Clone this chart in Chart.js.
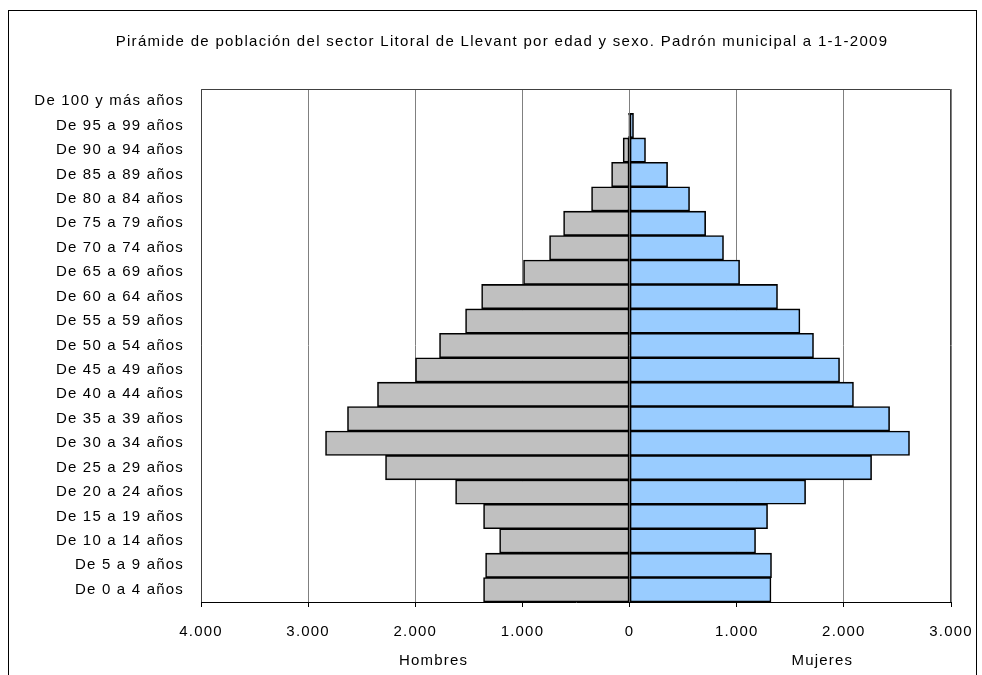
<!DOCTYPE html>
<html>
<head>
<meta charset="utf-8">
<title>Pirámide de población</title>
<script src="https://cdn.jsdelivr.net/npm/chart.js@4/dist/chart.umd.min.js"></script>
<style>
  body { margin: 0; background: #fff; }
  canvas { display: block; }
</style>
</head>
<body>
<canvas id="piramide" width="982" height="675"></canvas>
<script>
// grupos de edad, de abajo (0-4) hacia arriba (100 y más)
const edades = [
  "De 0 a 4 años", "De 5 a 9 años", "De 10 a 14 años", "De 15 a 19 años",
  "De 20 a 24 años", "De 25 a 29 años", "De 30 a 34 años", "De 35 a 39 años",
  "De 40 a 44 años", "De 45 a 49 años", "De 50 a 54 años", "De 55 a 59 años",
  "De 60 a 64 años", "De 65 a 69 años", "De 70 a 74 años", "De 75 a 79 años",
  "De 80 a 84 años", "De 85 a 89 años", "De 90 a 94 años", "De 95 a 99 años",
  "De 100 y más años"
];
const hombres = [1363, 1344, 1213, 1363, 1624, 2278, 2838, 2633, 2353, 1998, 1774,
  1531, 1381, 990, 747, 616, 355, 168, 60, 10, 0];
const mujeres = [1320, 1325, 1176, 1288, 1643, 2259, 2613, 2427, 2090, 1960, 1717,
  1590, 1381, 1027, 877, 710, 560, 355, 149, 37, 0];
const ejeMin = -4000;
const ejeMax = 3000;
const paso = 1000;

const titulo = "Pirámide de población del sector Litoral de Llevant por edad y sexo. Padrón municipal a 1-1-2009";
const fuente = "'Liberation Sans', Arial, sans-serif";
const espaciado = "1.2px";

function miles(v) {
  return String(Math.abs(v)).replace(/\B(?=(\d{3})+(?!\d))/g, ".");
}

// marco exterior, título, recuadro del área y rótulos Hombres / Mujeres
const decorado = {
  id: "decorado",
  beforeDraw(chart) {
    const ctx = chart.ctx;
    ctx.save();
    ctx.strokeStyle = "#000";
    ctx.lineWidth = 1;
    ctx.strokeRect(8.5, 10.5, 968, 700);
    ctx.fillStyle = "#000";
    ctx.font = "15px " + fuente;
    ctx.letterSpacing = "1.3px";
    ctx.textAlign = "center";
    ctx.textBaseline = "middle";
    ctx.fillText(titulo, 502, 42);
    ctx.restore();
    // el texto de los ejes va algo espaciado
    ctx.letterSpacing = espaciado;
  },
  afterDraw(chart) {
    const ctx = chart.ctx;
    const a = chart.chartArea;
    const x = chart.scales.x;
    ctx.save();
    ctx.strokeStyle = "#404040";
    ctx.lineWidth = 1;
    ctx.beginPath();
    ctx.moveTo(a.left + 0.5, a.bottom);
    ctx.lineTo(a.left + 0.5, a.top + 0.5);
    ctx.lineTo(a.right - 0.5, a.top + 0.5);
    ctx.lineTo(a.right - 0.5, a.bottom);
    ctx.stroke();
    ctx.fillStyle = "#000";
    ctx.font = "15px " + fuente;
    ctx.letterSpacing = espaciado;
    ctx.textAlign = "center";
    ctx.textBaseline = "middle";
    ctx.fillText("Hombres", x.getPixelForValue(-1830), 661);
    ctx.fillText("Mujeres", x.getPixelForValue(1800), 661);
    ctx.restore();
  }
};

new Chart(document.getElementById("piramide"), {
  type: "bar",
  data: {
    labels: edades,
    datasets: [{
      label: "Hombres",
      data: hombres.map(v => -v),
      backgroundColor: "#C0C0C0",
      borderColor: "#000",
      borderWidth: 1.6,
      borderSkipped: false,
      barPercentage: 1,
      categoryPercentage: 1
    }, {
      label: "Mujeres",
      data: mujeres,
      backgroundColor: "#99CCFF",
      borderColor: "#000",
      borderWidth: 1.6,
      borderSkipped: false,
      barPercentage: 1,
      categoryPercentage: 1
    }]
  },
  options: {
    indexAxis: "y",
    responsive: false,
    animation: false,
    devicePixelRatio: 1,
    layout: { padding: { left: 0, right: 31, top: 89, bottom: 0 } },
    plugins: {
      legend: { display: false },
      tooltip: { enabled: false }
    },
    scales: {
      x: {
        stacked: true,
        min: ejeMin,
        max: ejeMax,
        ticks: {
          stepSize: paso,
          callback: v => miles(v),
          color: "#000",
          font: { family: fuente, size: 15 },
          padding: 16,
          maxRotation: 0
        },
        grid: { color: "#808080", tickColor: "#000", tickLength: 5, lineWidth: 1 },
        border: { color: "#000", width: 1 },
        afterFit: s => {
          s.height = 73;
          s.paddingLeft = 0;
          s.paddingRight = 0;
        }
      },
      y: {
        stacked: true,
        reverse: true,
        ticks: {
          color: "#000",
          font: { family: fuente, size: 15 },
          padding: 17,
          autoSkip: false
        },
        grid: { display: false, drawTicks: false },
        border: { display: false },
        afterFit: s => {
          s.width = 201;
          s.paddingTop = 0;
          s.paddingBottom = 0;
        }
      }
    }
  },
  plugins: [decorado]
});
</script>
</body>
</html>
